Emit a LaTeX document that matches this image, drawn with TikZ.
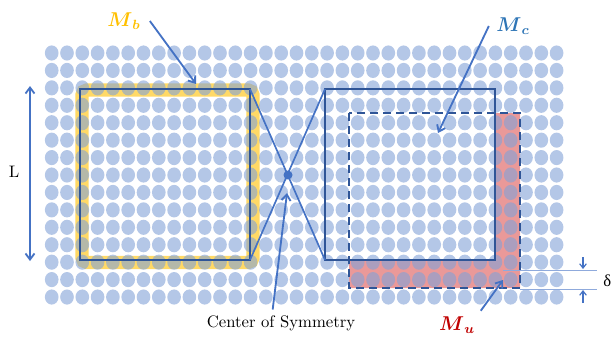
\documentclass[tikz,border=0pt]{standalone}
\usepackage{amsmath}
\usepackage{fontspec}
\newfontfamily\grkfont{Liberation Serif}
\usetikzlibrary{arrows.meta}
\definecolor{dotblue}{RGB}{130,162,215}
\definecolor{boxblue}{RGB}{47,85,151}
\definecolor{arrblue}{RGB}{68,114,196}
\definecolor{thinblue}{RGB}{143,170,220}
\definecolor{bandyellow}{RGB}{255,217,102}
\definecolor{regionred}{RGB}{234,153,153}
\definecolor{labelgold}{RGB}{255,192,0}
\definecolor{labelblue}{RGB}{46,117,182}
\definecolor{labelred}{RGB}{192,0,0}
\newcommand{\Mlab}[1]{\large$\boldsymbol{M}_{\boldsymbol{#1}}$}

\begin{document}
\begin{tikzpicture}[x=0.6pt,y=-0.6pt,
		>={Straight Barb[length=3.6pt,width=5.4pt]},
		dot/.style={fill=dotblue,fill opacity=0.6},
		frame/.style={draw=boxblue,line width=1.2pt},
		pointer/.style={draw=arrblue,line width=1.1pt},
		gauge/.style={draw=thinblue,line width=0.6pt}]
			
			\useasboundingbox (0,0) rectangle (611,337);
			
			\draw[bandyellow,line width=8pt,rounded corners=3pt] (82,90) rectangle (253,262.5);
			\fill[regionred] (495,113) -- (520,113) -- (520,288) -- (349,288) -- (349,260) -- (495,260) -- cycle;
			
			\foreach \i in {0,...,33}
			\foreach \j in {0,...,14}
			\fill[dot] ({51.7+15.3*\i},{53+17.43*\j}) ellipse [x radius=4.1pt,y radius=4.55pt];
			
			\coordinate (b-nw) at (80,89);
			\coordinate (b-ne) at (250,89);
			\coordinate (b-se) at (250,260);
			\coordinate (c-nw) at (325,89);
			\coordinate (c-sw) at (325,260);
			\coordinate (c-se) at (495,260);
			\coordinate (u-nw) at (349,113);
			\coordinate (u-se) at (520,288);
			
			\draw[frame] (b-nw) rectangle (b-se);
			\draw[frame] (c-nw) rectangle (c-se);
			\draw[frame,dash pattern=on 4.8pt off 3pt] (u-nw) rectangle (u-se);
			\draw[pointer,line width=1pt] (b-ne) -- (c-sw);
			\draw[pointer,line width=1pt] (b-se) -- (c-nw);
			\node[circle,fill=arrblue,inner sep=0pt,minimum size=5.4pt] (cs) at (288,175) {};
			
			\draw(124,21) node[labelgold] (Mb) {\Mlab{b}};
			\draw(513,26) node[labelblue] (Mc) {\Mlab{c}};
			\draw(457,325) node[labelred] (Mu) {\Mlab{u}};
			\draw(281,323) node (csym) {Center of Symmetry};
			\draw(14,172) node (Llab) {L};
			\draw(603,281) node[anchor=west,inner sep=0pt] (dlab) {\grkfont δ};
			
			\coordinate (mb-tip) at (196,84);
			\coordinate (mc-tip) at (438,133);
			\coordinate (mu-tip) at (503,280);
			\coordinate (cs-tip) at (287,193);
			\coordinate (l-top) at (30,86);
			\coordinate (l-bot) at (30,261);
			
			\draw[pointer,->] ([xshift=2pt]Mb.east) -- (mb-tip);
			\draw[pointer,->] ([xshift=-1pt]Mc.west) -- (mc-tip);
			\draw[pointer,->] (Mu.north east) -- (mu-tip);
			\draw[pointer,->] ([xshift=-5pt]csym.north) -- (cs-tip);
			\draw[pointer,<->] (l-top) -- (l-bot);
			
			\coordinate (g1a) at (503,270);
			\coordinate (g1b) at (597,270);
			\coordinate (g2a) at (520,289);
			\coordinate (g2b) at (597,289);
			\coordinate (dn-tail) at (583,257);
			\coordinate (dn-tip) at (583,269);
			\coordinate (up-tail) at (583,303);
			\coordinate (up-tip) at (583,290);
			
			\draw[gauge] (g1a) -- (g1b);
			\draw[gauge] (g2a) -- (g2b);
			\draw[pointer,line width=0.7pt,-{Straight Barb[length=2.6pt,width=4pt]}] (dn-tail) -- (dn-tip);
			\draw[pointer,line width=0.7pt,-{Straight Barb[length=2.6pt,width=4pt]}] (up-tail) -- (up-tip);
		\end{tikzpicture}
\end{document}
